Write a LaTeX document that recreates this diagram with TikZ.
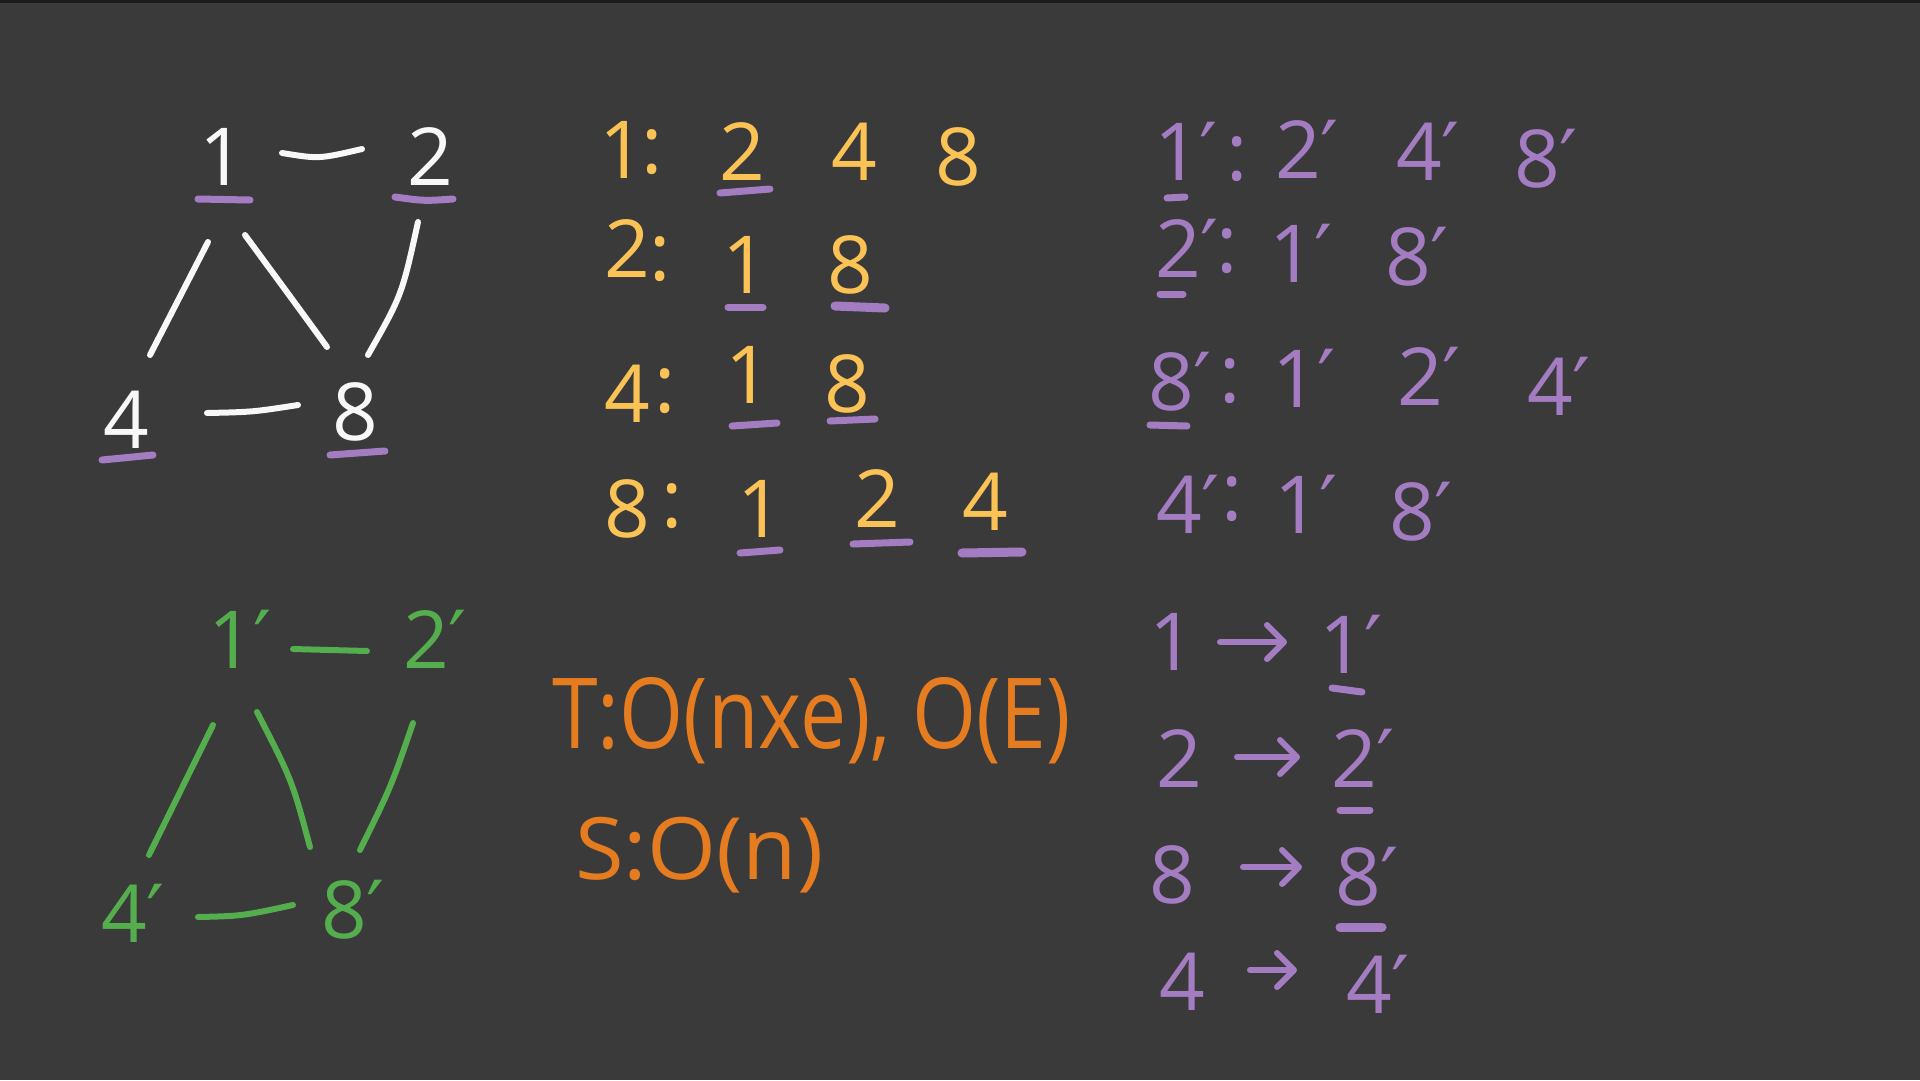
\documentclass[tikz,border=0pt]{standalone}
\usepackage{fontspec}
\setmainfont{Open Sans}
\newfontfamily\primefont{DejaVu Sans}
\usetikzlibrary{arrows.meta}
\definecolor{bgc}{RGB}{58,58,58}
\definecolor{topc}{RGB}{28,28,28}
\definecolor{whc}{RGB}{248,248,248}
\definecolor{ylc}{RGB}{251,194,86}
\definecolor{puc}{RGB}{164,124,194}
\definecolor{grc}{RGB}{84,174,78}
\definecolor{orc}{RGB}{230,124,32}
\newcommand\pr{{\primefont\char"2032}}
\tikzset{
  dig/.style={font=\fontsize{80}{90}\selectfont, inner sep=0pt, anchor=base},
  wdig/.style={dig, text=whc},
  ydig/.style={dig, text=ylc},
  pdig/.style={dig, text=puc},
  gdig/.style={dig, text=grc},
  wline/.style={draw=whc, line width=6pt, line cap=round},
  gline/.style={draw=grc, line width=6pt, line cap=round},
  ul/.style={draw=puc, line width=7pt, line cap=round},
  maparrow/.style={draw=puc, line width=6pt, line cap=round,
    -{Straight Barb[round, length=17pt, width=34pt]}},
  cplx/.style={inner sep=0pt, anchor=base west, text=orc}
}
\begin{document}
\begin{tikzpicture}[x=1pt, y=-1pt]
\useasboundingbox (0,0) rectangle (1920,1080);
\fill[bgc] (0,0) rectangle (1920,1080);
\fill[topc] (0,0) rectangle (1920,3);

% ---------- white graph ----------
\node[wdig] (n1) at (222,185) {1};
\node[wdig] (n2) at (430,185) {2};
\node[wdig] (n4) at (126,448) {4};
\node[wdig] (n8) at (355,440) {8};
\draw[wline] ([shift={(60,-32)}]n1.base) .. controls (319,159) .. ([shift={(-68,-36)}]n2.base);
\draw[wline] ([shift={(-14,57)}]n1.base) -- ([shift={(24,-93)}]n4.base);
\draw[wline] ([shift={(23,50)}]n1.base) .. controls (295,303) .. ([shift={(-28,-93)}]n8.base);
\draw[wline] ([shift={(-12,37)}]n2.base) .. controls (402,295) .. ([shift={(13,-85)}]n8.base);
\draw[wline] ([shift={(81,-35)}]n4.base) .. controls (253,412) .. ([shift={(-57,-35)}]n8.base);
\draw[ul] (198,199) -- (250,200);
\draw[ul] (395,197) .. controls (424,201) .. (453,199);
\draw[ul] (102,460) -- (153,455);
\draw[ul] (330,455) -- (385,451);

% ---------- yellow adjacency list ----------
\node[ydig] (a1) at (622,178) {1};
\node[ydig] (a1c) at (652,173) {:};
\node[ydig] (a12) at (742,180) {2};
\node[ydig] (a14) at (854,180) {4};
\node[ydig] (a18) at (958,185) {8};
\draw[ul] (720,193) -- (770,189);

\node[ydig] (a2) at (627,277) {2};
\node[ydig] (a2c) at (660,280) {:};
\node[ydig] (a21) at (745,293) {1};
\node[ydig] (a28) at (850,293) {8};
\draw[ul] (728,307) -- (763,307);
\draw[ul, line width=9pt] (835,306) -- (885,308);

\node[ydig] (a4) at (627,422) {4};
\node[ydig] (a4c) at (665,412) {:};
\node[ydig] (a41) at (748,403) {1};
\node[ydig] (a48) at (847,412) {8};
\draw[ul] (732,426) -- (777,423);
\draw[ul] (830,421) -- (875,419);

\node[ydig] (a8) at (627,537) {8};
\node[ydig] (a8c) at (672,527) {:};
\node[ydig] (a81) at (760,537) {1};
\node[ydig] (a82) at (877,527) {2};
\node[ydig] (a84) at (985,530) {4};
\draw[ul] (740,553) -- (780,550);
\draw[ul] (853,544) -- (910,542);
\draw[ul, line width=9pt] (962,553) -- (1022,552);

% ---------- purple adjacency list ----------
\node[pdig] (b1) at (1186,180) {1\pr};
\node[pdig] (b1c) at (1237,180) {:};
\node[pdig] (b12) at (1307,178) {2\pr};
\node[pdig] (b14) at (1428,180) {4\pr};
\node[pdig] (b18) at (1546,187) {8\pr};
\draw[ul] (1167,198) -- (1185,197);

\node[pdig] (b2) at (1187,277) {2\pr};
\node[pdig] (b2c) at (1227,272) {:};
\node[pdig] (b21) at (1301,282) {1\pr};
\node[pdig] (b28) at (1417,285) {8\pr};
\draw[ul] (1160,294) -- (1183,294);

\node[pdig] (b8) at (1180,410) {8\pr};
\node[pdig] (b8c) at (1230,402) {:};
\node[pdig] (b81) at (1304,407) {1\pr};
\node[pdig] (b82) at (1429,405) {2\pr};
\node[pdig] (b84) at (1559,415) {4\pr};
\draw[ul] (1150,425) -- (1187,426);

\node[pdig] (b4) at (1188,533) {4\pr};
\node[pdig] (b4c) at (1232,520) {:};
\node[pdig] (b41) at (1306,533) {1\pr};
\node[pdig] (b48) at (1421,540) {8\pr};

% ---------- green graph ----------
\node[gdig] (g1) at (240,668) {1\pr};
\node[gdig] (g2) at (435,668) {2\pr};
\node[gdig] (g4) at (133,942) {4\pr};
\node[gdig] (g8) at (353,938) {8\pr};
\draw[gline] ([shift={(53,-19)}]g1.base) -- ([shift={(-68,-17)}]g2.base);
\draw[gline] ([shift={(-27,57)}]g1.base) -- ([shift={(16,-87)}]g4.base);
\draw[gline] ([shift={(17,44)}]g1.base) .. controls (292,780) .. ([shift={(-43,-91)}]g8.base);
\draw[gline] ([shift={(-22,55)}]g2.base) .. controls (391,787) .. ([shift={(7,-88)}]g8.base);
\draw[gline] ([shift={(65,-25)}]g4.base) .. controls (242,916) .. ([shift={(-60,-33)}]g8.base);

% ---------- complexity ----------
\node[cplx, font=\fontsize{98}{104}\selectfont] (tc) at (552,748) {\scalebox{0.84}[1]{T:O(nxe), O(E)}};
\node[cplx, font=\fontsize{86}{92}\selectfont] (sc) at (575,879) {\scalebox{1.03}[1]{S:O(n)}};

% ---------- mapping ----------
\node[pdig] (m1) at (1172,670) {1};
\node[pdig] (m1p) at (1351,673) {1\pr};
\node[pdig] (m2) at (1179,787) {2};
\node[pdig] (m2p) at (1363,787) {2\pr};
\node[pdig] (m8) at (1172,903) {8};
\node[pdig] (m8p) at (1367,905) {8\pr};
\node[pdig] (m4) at (1182,1010) {4};
\node[pdig] (m4p) at (1378,1013) {4\pr};
\draw[maparrow] ([shift={(48,-28)}]m1.base) -- ([shift={(-64,-31)}]m1p.base);
\draw[maparrow] ([shift={(58,-30)}]m2.base) -- ([shift={(-63,-30)}]m2p.base);
\draw[maparrow] ([shift={(71,-36)}]m8.base) -- ([shift={(-65,-38)}]m8p.base);
\draw[maparrow] ([shift={(68,-40)}]m4.base) -- ([shift={(-81,-43)}]m4p.base);
\draw[ul] (1332,688) -- (1362,692);
\draw[ul] (1340,810) -- (1370,810);
\draw[ul, line width=9pt] (1340,927) -- (1382,927);
\end{tikzpicture}
\end{document}
